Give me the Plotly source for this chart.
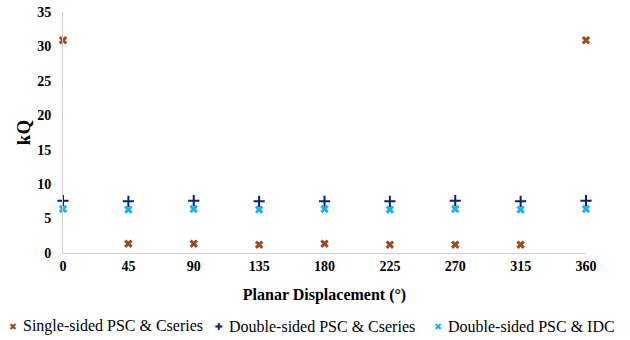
import plotly.graph_objects as go

# Planar displacement angles (degrees)
angles = [0, 45, 90, 135, 180, 225, 270, 315, 360]

# Coupling factor kQ for each configuration
single_cseries = [30.9, 1.35, 1.35, 1.2, 1.35, 1.2, 1.2, 1.2, 30.9]
double_cseries = [7.6, 7.5, 7.6, 7.5, 7.5, 7.5, 7.6, 7.5, 7.6]
double_idc = [6.4, 6.3, 6.4, 6.3, 6.4, 6.3, 6.4, 6.3, 6.4]

series_names = ["Single-sided PSC & Cseries", "Double-sided PSC & Cseries", "Double-sided PSC & IDC"]
series_colors = ["#9E4A1C", "#0B2466", "#16B4EE"]
legend_glyphs = ["✖", "✚", "✖"]
x_ticks = [0, 45, 90, 135, 180, 225, 270, 315, 360]
y_ticks = [0, 5, 10, 15, 20, 25, 30, 35]

serif = "Liberation Serif"
W, H = 630, 340
M = dict(l=63, r=44, t=12, b=87)
plot_w = W - M["l"] - M["r"]
plot_h = H - M["t"] - M["b"]

fig = go.Figure()
fig.add_trace(go.Scatter(
    x=angles, y=single_cseries, mode="markers", name=series_names[0], cliponaxis=False,
    marker=dict(symbol="x", size=7.5, color=series_colors[0]),
))
fig.add_trace(go.Scatter(
    x=angles, y=double_cseries, mode="markers", name=series_names[1], cliponaxis=False,
    marker=dict(symbol="cross-thin", size=8, color=series_colors[1],
                line=dict(width=2, color=series_colors[1])),
))
fig.add_trace(go.Scatter(
    x=angles, y=double_idc, mode="markers", name=series_names[2], cliponaxis=False,
    marker=dict(symbol="x", size=7.5, color=series_colors[2]),
))

# Legend row below the axis title: coloured glyph followed by the series name
legend_px = [13, 219, 438]
legend_y = (H - M["b"] - 326) / plot_h
for px, name, color, glyph in zip(legend_px, series_names, series_colors, legend_glyphs):
    fig.add_annotation(
        x=(px - M["l"]) / plot_w, y=legend_y, xref="paper", yref="paper",
        text=glyph, showarrow=False, xanchor="center", yanchor="middle",
        font=dict(size=9.5, family="DejaVu Sans", color=color),
    )
    fig.add_annotation(
        x=(px + 8 - M["l"]) / plot_w, y=legend_y, xref="paper", yref="paper",
        text=name, showarrow=False, xanchor="left", yanchor="middle",
        font=dict(size=16, family=serif, color="black"),
    )

fig.update_layout(
    width=W, height=H, margin=M,
    paper_bgcolor="white", plot_bgcolor="white",
    font=dict(family=serif, color="black"),
    showlegend=False,
)
fig.update_xaxes(
    range=[0, 360], tickvals=x_ticks, ticktext=[str(t) for t in x_ticks],
    showgrid=False, zeroline=False, showline=True, linecolor="#D0D0D0", linewidth=1,
    ticks="", automargin=False, tickfont=dict(size=14, family=serif, weight="bold"),
    title=dict(text="Planar Displacement (°)", font=dict(size=16, family=serif, weight="bold"), standoff=16),
)
fig.update_yaxes(
    range=[0, 35], tickvals=y_ticks,
    showgrid=False, zeroline=False, showline=True, linecolor="#D0D0D0", linewidth=1,
    ticks="", automargin=False, tickfont=dict(size=14, family=serif, weight="bold"), ticklabelstandoff=8,
    title=dict(text="kQ", font=dict(size=19, family=serif, weight="bold"), standoff=1),
)

fig.write_html("out.html")
